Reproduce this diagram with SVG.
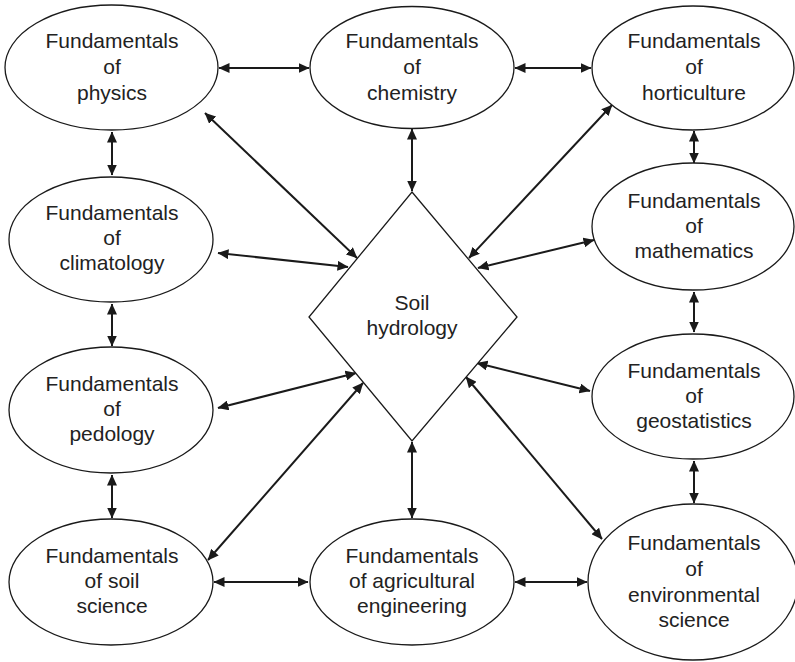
<svg xmlns="http://www.w3.org/2000/svg" width="795" height="662" viewBox="0 0 795 662">
<style>
.n{fill:#fff;stroke:#1a1a1a;stroke-width:1.3}
.t{font-family:"Liberation Sans",Arial,sans-serif;font-size:21px;fill:#222;text-anchor:middle}
.c{stroke:#1a1a1a;stroke-width:2;fill:none;marker-start:url(#ah);marker-end:url(#ah)}
</style>
<defs>
<marker id="ah" markerUnits="userSpaceOnUse" markerWidth="11" markerHeight="10" refX="10.5" refY="5" orient="auto-start-reverse" viewBox="0 0 11 10">
<path d="M0,0 L11,5 L0,10 z" fill="#1a1a1a"/>
</marker>
</defs>
<rect width="795" height="662" fill="#fff"/>
<g id="connectors">
<line class="c" x1="219" y1="68" x2="309" y2="68"/>
<line class="c" x1="515" y1="68" x2="591" y2="68"/>
<line class="c" x1="112" y1="132" x2="112" y2="175"/>
<line class="c" x1="112" y1="304" x2="112" y2="346"/>
<line class="c" x1="112" y1="475" x2="112" y2="518"/>
<line class="c" x1="214" y1="582" x2="308" y2="582"/>
<line class="c" x1="515" y1="582" x2="587" y2="582"/>
<line class="c" x1="694" y1="131" x2="694" y2="163"/>
<line class="c" x1="694" y1="292" x2="694" y2="332"/>
<line class="c" x1="694" y1="461" x2="694" y2="503"/>
<line class="c" x1="412" y1="129" x2="412" y2="191"/>
<line class="c" x1="412" y1="442" x2="412" y2="518"/>
<line class="c" x1="205" y1="113" x2="357" y2="258"/>
<line class="c" x1="218" y1="253" x2="348" y2="267"/>
<line class="c" x1="218" y1="408" x2="356" y2="373"/>
<line class="c" x1="208" y1="560" x2="363" y2="383"/>
<line class="c" x1="612" y1="105" x2="469" y2="258"/>
<line class="c" x1="594" y1="240" x2="478" y2="268"/>
<line class="c" x1="590" y1="391" x2="477" y2="363"/>
<line class="c" x1="602" y1="539" x2="466" y2="377"/>
</g>
<g id="physics"><ellipse class="n" cx="111.5" cy="67.5" rx="106.5" ry="62.5"/>
<text class="t" x="112" y="48">Fundamentals</text><text class="t" x="112" y="74">of</text><text class="t" x="112" y="100">physics</text></g>
<g id="chemistry"><ellipse class="n" cx="412" cy="67.5" rx="102" ry="61"/>
<text class="t" x="412" y="48">Fundamentals</text><text class="t" x="412" y="74">of</text><text class="t" x="412" y="100">chemistry</text></g>
<g id="horticulture"><ellipse class="n" cx="693" cy="68" rx="101" ry="62"/>
<text class="t" x="694" y="48">Fundamentals</text><text class="t" x="694" y="74">of</text><text class="t" x="694" y="100">horticulture</text></g>
<g id="climatology"><ellipse class="n" cx="111" cy="239.5" rx="102" ry="62.5"/>
<text class="t" x="112" y="220">Fundamentals</text><text class="t" x="112" y="245">of</text><text class="t" x="112" y="270">climatology</text></g>
<g id="mathematics"><ellipse class="n" cx="693" cy="226.5" rx="101" ry="63.5"/>
<text class="t" x="694" y="208">Fundamentals</text><text class="t" x="694" y="233">of</text><text class="t" x="694" y="258">mathematics</text></g>
<g id="pedology"><ellipse class="n" cx="111" cy="410" rx="102" ry="63"/>
<text class="t" x="112" y="391">Fundamentals</text><text class="t" x="112" y="416">of</text><text class="t" x="112" y="441">pedology</text></g>
<g id="geostatistics"><ellipse class="n" cx="693" cy="396.5" rx="101" ry="62.5"/>
<text class="t" x="694" y="378">Fundamentals</text><text class="t" x="694" y="403">of</text><text class="t" x="694" y="428">geostatistics</text></g>
<g id="soil-hydrology"><polygon class="n" points="412,192 517,317 412,441 309,317"/>
<text class="t" x="412" y="310">Soil</text><text class="t" x="412" y="335">hydrology</text></g>
<g id="soil-science"><ellipse class="n" cx="111" cy="582" rx="102" ry="63"/>
<text class="t" x="112" y="563">Fundamentals</text><text class="t" x="112" y="588">of soil</text><text class="t" x="112" y="613">science</text></g>
<g id="agricultural-engineering"><ellipse class="n" cx="412" cy="582" rx="102" ry="63"/>
<text class="t" x="412" y="563">Fundamentals</text><text class="t" x="412" y="588">of agricultural</text><text class="t" x="412" y="613">engineering</text></g>
<g id="environmental-science"><ellipse class="n" cx="693" cy="582" rx="105" ry="78"/>
<text class="t" x="694" y="550">Fundamentals</text><text class="t" x="694" y="576">of</text><text class="t" x="694" y="602">environmental</text><text class="t" x="694" y="627">science</text></g>
</svg>
